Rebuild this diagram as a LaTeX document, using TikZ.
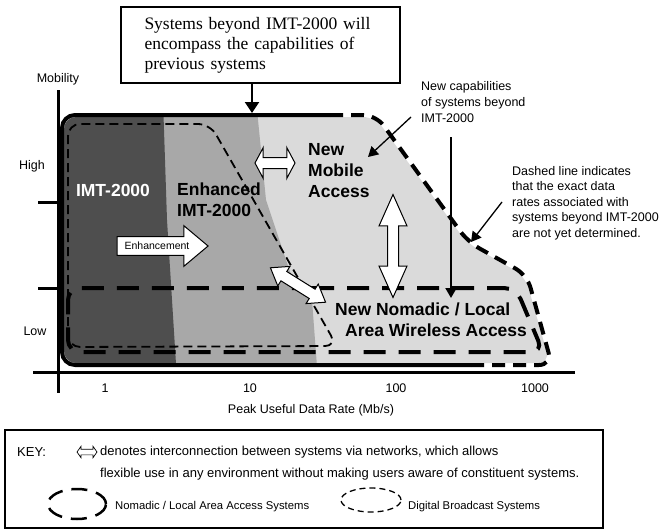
\documentclass[tikz,border=0pt]{standalone}
\usepackage{fontspec}
\setmainfont{Liberation Sans}
\newfontfamily\boxserif{Liberation Serif}
\usetikzlibrary{arrows.meta, shapes.arrows, shapes.geometric, positioning}
\definecolor{imtdark}{RGB}{78, 78, 78}
\definecolor{enhancedgray}{RGB}{168, 168, 168}
\definecolor{beyondgray}{RGB}{218, 218, 218}
\tikzset{
    axis/.style={
        line width=3pt
    },
    frame solid/.style={
        line width=4pt,
        rounded corners=13pt
    },
    frame open/.style={
        line width=4pt,
        rounded corners=13pt,
        dash pattern=on 13pt off 8pt
    },
    nomadic zone/.style={
        line width=4pt,
        rounded corners=12pt,
        dash pattern=on 22pt off 13pt
    },
    broadcast zone/.style={
        line width=1.8pt,
        rounded corners=12pt,
        dash pattern=on 9pt off 5pt
    },
    link arrow/.style={
        double arrow,
        draw,
        fill=white,
        line width=1pt,
        inner xsep=0pt,
        inner ysep=5pt
    },
    pointer/.style={
        -{Triangle[length=11pt, width=14pt]},
        line width=2pt
    },
    note pointer/.style={
        -{Triangle[length=10pt, width=11pt]},
        line width=1.3pt
    },
    axis label/.style={
        font=\fontsize{12.5}{15}\selectfont
    },
    note/.style={
        font=\fontsize{12.5}{16}\selectfont,
        align=left,
        anchor=north west,
        inner sep=0pt
    },
    zone label/.style={
        font=\fontsize{17.5}{21}\selectfont\bfseries,
        align=left,
        inner sep=0pt
    },
    key text/.style={
        font=\fontsize{13}{15}\selectfont,
        anchor=west,
        inner sep=0pt
    },
    key item/.style={
        font=\fontsize{11.3}{13}\selectfont,
        anchor=west,
        inner sep=0pt
    },
    nomadic key/.style={
        ellipse,
        draw,
        line width=2.5pt,
        dash pattern=on 16pt off 9pt,
        minimum width=58pt,
        minimum height=30pt
    },
    broadcast key/.style={
        ellipse,
        draw,
        line width=1.3pt,
        dash pattern=on 6pt off 4pt,
        minimum width=60pt,
        minimum height=24pt
    }
}

\begin{document}
\begin{tikzpicture}[x=1pt, y=-1pt]
\useasboundingbox (0,0) rectangle (662,530);

% Grey zones inside the frame
\begin{scope}
    \clip[rounded corners=12pt] (64,363) -- (64,117) -- (375,117) -- (467,243) -- (525,276) -- (550,363) -- cycle;
    \fill[beyondgray] (0,0) rectangle (662,400);
    \fill[enhancedgray] (0,100) -- (256,100) -- (266,200) -- (290,272) -- (312,300) -- (318,380) -- (0,380) -- cycle;
    \fill[imtdark] (0,100) -- (163,100) -- (167,220) -- (177,380) -- (0,380) -- cycle;
\end{scope}

% Frame: solid part is known, dashed part is still open
\draw[frame solid] (330,115) -- (62,115) -- (62,365) -- (471,365);
\draw[frame open] (330,115) -- (376,115) -- (468,242) -- (527,275) -- (552,365) -- (471,365);

% Digital broadcast and nomadic zones
\draw[broadcast zone] (68,240) -- (68,124) -- (210,124) -- (337,346) -- (68,347) -- cycle;
\draw[nomadic zone] (300,288) -- (516,288) -- (543,352) -- (68,352) -- (68,288) -- cycle;

% Axes
\draw[axis] (58,90) -- (58,393);
\draw[axis] (33,372) -- (575,372);
\draw[axis] (38,202) -- (58,202);
\draw[axis] (38,288) -- (58,288);

\node[axis label] (mobility) at (58,79) {Mobility};
\node[axis label] (high) at (32,166) {High};
\node[axis label] (low) at (35,331) {Low};
\foreach \x/\rate in {105/1, 250/10, 396/100, 535/1000}
    \node[axis label] (rate\rate) at (\x,388) {\rate};
\node[axis label] (rateaxis) at (311,410) {Peak Useful Data Rate (Mb/s)};

% Zone names
\node[zone label, text=white] (imt) at (113,190) {IMT-2000};
\node[zone label, anchor=west] (enhanced) at (177,200) {Enhanced\\IMT-2000};
\node[zone label, anchor=west] (mobile) at (308,171) {New\\Mobile\\Access};
\node[zone label, anchor=west] (nomadic) at (335,320) {New Nomadic / Local\\\hspace*{10pt}Area Wireless Access};

% Interconnection arrows
\node[link arrow, minimum height=40pt, double arrow head extend=10pt, double arrow tip angle=124] (mobilelink) at (275,163) {};
\node[link arrow, rotate=90, minimum height=103pt, double arrow head extend=8.5pt, double arrow tip angle=48] (verticallink) at (393,246) {};
\node[link arrow, rotate=-32, minimum height=65pt, double arrow head extend=6pt, double arrow tip angle=72] (nomadiclink) at (298,285) {};
\node[single arrow, draw, fill=white, line width=1pt, minimum height=91pt, inner ysep=5pt,
      single arrow head extend=11pt, single arrow tip angle=80,
      font=\fontsize{10.5}{12}\selectfont] (enhancement) at (157,246) {Enhancement};

% Caption box on top
\node[draw, line width=1.5pt, minimum width=279pt, minimum height=76pt, text width=232pt,
      align=left, font=\boxserif\fontsize{17.5}{20}\selectfont] (beyond) at (260.5,45) {
    Systems beyond IMT-2000 will\\
    encompass the capabilities of\\
    previous systems
};
\coordinate (frametop) at (252,113);
\draw[pointer] (beyond.south -| frametop) -- (frametop);

% Notes on the right
\node[note] (newcaps) at (421,81) {New capabilities\\of systems beyond\\IMT-2000};
\coordinate (capsfrom) at (411,117);
\coordinate (capsto) at (368,157);
\coordinate (capsdrop) at (451,137);
\coordinate (capsland) at (451,298);
\draw[note pointer] (capsfrom) -- (capsto);
\draw[note pointer, line width=2pt] (capsdrop) -- (capsland);

\node[note, font=\fontsize{12.5}{15.5}\selectfont] (dashednote) at (512,166) {
    Dashed line indicates\\
    that the exact data\\
    rates associated with\\
    systems beyond IMT-2000\\
    are not yet determined.
};
\coordinate (dashfrom) at (502,202);
\coordinate (dashto) at (471,242);
\draw[note pointer] (dashfrom) -- (dashto);

% Key
\node[draw, line width=1.5pt, minimum width=598pt, minimum height=98pt, inner sep=0pt] (keybox) at (304,479) {};
\node[key text] (keyword) at (17,452) {KEY:};
\node[link arrow, line width=0.7pt, minimum height=20pt, inner ysep=2.5pt,
      double arrow head extend=3pt, double arrow tip angle=110] (keylink) at (87,452) {};
\node[key text] (keyline1) at (100,452) {denotes interconnection between systems via networks, which allows};
\node[key text] (keyline2) at (100,474) {flexible use in any environment without making users aware of constituent systems.};
\node[nomadic key] (keynomadic) at (77,504) {};
\node[key item] (keynomadictext) at (115,507) {Nomadic / Local Area Access Systems};
\node[broadcast key] (keybroadcast) at (371,500) {};
\node[key item] (keybroadcasttext) at (408,507) {Digital Broadcast Systems};

\end{tikzpicture}
\end{document}
